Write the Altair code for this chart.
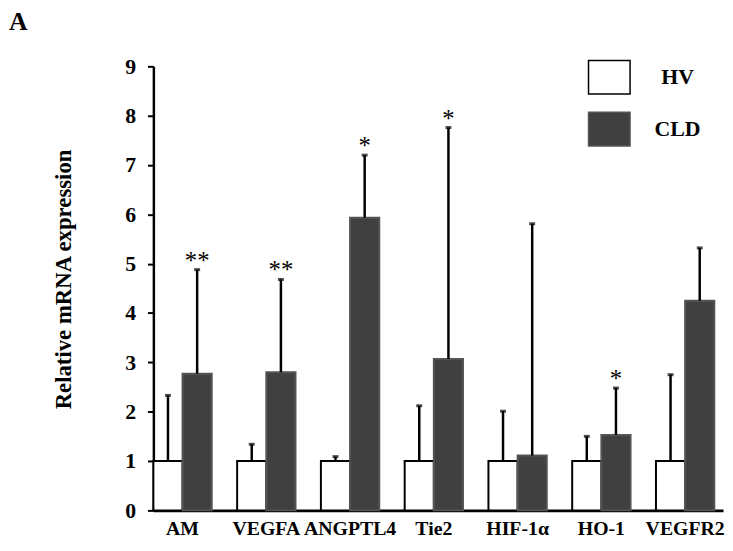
import altair as alt
import pandas as pd

genes = ["AM", "VEGFA", "ANGPTL4", "Tie2", "HIF-1α", "HO-1", "VEGFR2"]
groups = ["HV", "CLD"]
hv_mean = [1, 1, 1, 1, 1, 1, 1]
hv_top = [2.33, 1.34, 1.09, 2.12, 2.01, 1.50, 2.75]
cld_mean = [2.77, 2.80, 5.93, 3.07, 1.11, 1.53, 4.25]
cld_top = [4.88, 4.68, 7.20, 7.76, 5.81, 2.48, 5.32]
cld_stars = ["**", "**", "*", "*", "", "*", ""]
y_ticks = [0, 1, 2, 3, 4, 5, 6, 7, 8, 9]

rows = []
for i, g in enumerate(genes):
    rows.append({"gene": g, "group": "HV", "mean": hv_mean[i], "top": hv_top[i], "star": ""})
    rows.append({"gene": g, "group": "CLD", "mean": cld_mean[i], "top": cld_top[i], "star": cld_stars[i]})
df = pd.DataFrame(rows)

FONT = "Liberation Serif"

x_enc = alt.X("gene:N", sort=genes,
              scale=alt.Scale(paddingInner=0.3034, paddingOuter=0.052, align=0),
              axis=alt.Axis(title=None, labelAngle=0, ticks=False, domainWidth=3,
                            domainColor="black", labelFont=FONT, labelFontSize=20,
                            labelFontWeight="bold", labelColor="black", labelPadding=8))
xo_enc = alt.XOffset("group:N", sort=groups,
                     scale=alt.Scale(domain=groups, paddingInner=0, paddingOuter=0))
y_scale = alt.Scale(domain=[0, 9], nice=False)

legend = alt.Legend(title=None, orient="none", legendX=439, legendY=-11,
                    symbolType="M-1,-0.81H1V0.81H-1Z", symbolSize=1764,
                    symbolStrokeWidth=1.5, labelFont=FONT,
                    labelFontSize=22, labelFontWeight="bold",
                    labelColor="black", labelOffset=47,
                    labelAlign="center", rowPadding=9.5)

bars = alt.Chart(df).mark_bar(strokeWidth=2).encode(
    x=x_enc,
    xOffset=xo_enc,
    y=alt.Y("mean:Q", scale=y_scale,
            axis=alt.Axis(values=y_ticks, title="Relative mRNA expression", grid=False,
                          labelFont=FONT, labelFontSize=22, labelFontWeight="bold",
                          labelColor="black", labelPadding=12, tickSize=6, tickWidth=2,
                          tickColor="black", domainWidth=2.5, domainColor="black",
                          titleFont=FONT, titleFontSize=23, titleFontWeight="bold",
                          titleColor="black", titleAngle=270, titleX=-91, titleY=215,
                          titleAlign="center", titleBaseline="middle")),
    fill=alt.Fill("group:N", sort=groups,
                  scale=alt.Scale(domain=groups, range=["white", "#404040"]),
                  legend=legend),
    stroke=alt.Stroke("group:N", sort=groups,
                      scale=alt.Scale(domain=groups, range=["black", "#555555"]),
                      legend=legend),
)

err = alt.Chart(df).mark_rule(color="black", strokeWidth=2.5).encode(
    x=alt.X("gene:N", sort=genes), xOffset=alt.XOffset("group:N", sort=groups),
    y=alt.Y("mean:Q", scale=y_scale), y2="top:Q")

caps = alt.Chart(df).mark_tick(color="black", size=6, thickness=3).encode(
    x=alt.X("gene:N", sort=genes), xOffset=alt.XOffset("group:N", sort=groups),
    y=alt.Y("top:Q", scale=y_scale))

stars = alt.Chart(df).mark_text(font=FONT, fontSize=25, color="black",
                                baseline="alphabetic", dy=-1).encode(
    x=alt.X("gene:N", sort=genes), xOffset=alt.XOffset("group:N", sort=groups),
    y=alt.Y("top:Q", scale=y_scale), text="star:N")

chart = alt.layer(bars, err, caps, stars).properties(
    width=576, height=449,
    autosize=alt.AutoSizeParams(type="none"),
    padding={"left": 147, "top": 56, "right": 2, "bottom": 30},
    title=alt.TitleParams("A", anchor="start", frame="group", dx=-146, dy=34, font=FONT,
                          fontSize=26, fontWeight="bold", color="black",
                          baseline="alphabetic", offset=34),
).configure_view(stroke=None)

chart.save("out.html", embed_options={"renderer": "svg", "actions": False})
